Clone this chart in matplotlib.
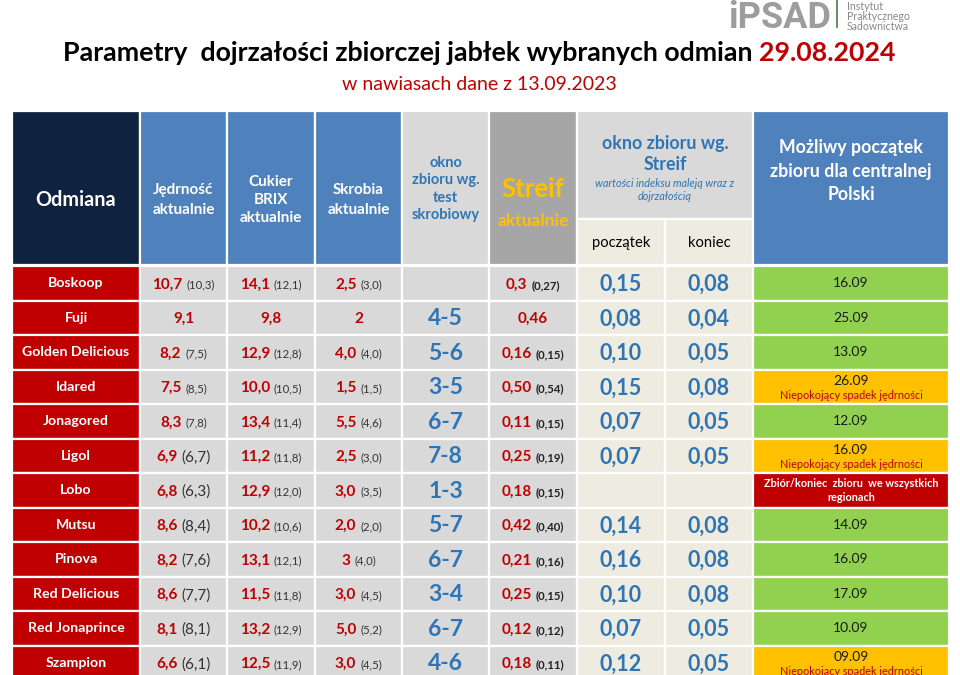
import matplotlib
matplotlib.use("Agg")
import matplotlib.pyplot as plt
from matplotlib.patches import Rectangle
from matplotlib import font_manager

plt.rcParams['font.family'] = ['Lato', 'DejaVu Sans']

# ---------------- data ----------------
varieties = ["Boskoop", "Fuji", "Golden Delicious", "Idared", "Jonagored", "Ligol",
             "Lobo", "Mutsu", "Pinova", "Red Delicious", "Red Jonaprince", "Szampion"]
firmness_now = ["10,7", "9,1", "8,2", "7,5", "8,3", "6,9", "6,8", "8,6", "8,2", "8,6", "8,1", "6,6"]
firmness_prev = ["10,3", "", "7,5", "8,5", "7,8", "6,7", "6,3", "8,4", "7,6", "7,7", "8,1", "6,1"]
sugar_now = ["14,1", "9,8", "12,9", "10,0", "13,4", "11,2", "12,9", "10,2", "13,1", "11,5", "13,2", "12,5"]
sugar_prev = ["12,1", "", "12,8", "10,5", "11,4", "11,8", "12,0", "10,6", "12,1", "11,8", "12,9", "11,9"]
starch_now = ["2,5", "2", "4,0", "1,5", "5,5", "2,5", "3,0", "2,0", "3", "3,0", "5,0", "3,0"]
starch_prev = ["3,0", "", "4,0", "1,5", "4,6", "3,0", "3,5", "2,0", "4,0", "4,5", "5,2", "4,5"]
starch_window = ["", "4-5", "5-6", "3-5", "6-7", "7-8", "1-3", "5-7", "6-7", "3-4", "6-7", "4-6"]
streif_now = ["0,3", "0,46", "0,16", "0,50", "0,11", "0,25", "0,18", "0,42", "0,21", "0,25", "0,12", "0,18"]
streif_prev = ["0,27", "", "0,15", "0,54", "0,15", "0,19", "0,15", "0,40", "0,16", "0,15", "0,12", "0,11"]
streif_start = ["0,15", "0,08", "0,10", "0,15", "0,07", "0,07", "", "0,14", "0,16", "0,10", "0,07", "0,12"]
streif_end = ["0,08", "0,04", "0,05", "0,08", "0,05", "0,05", "", "0,08", "0,08", "0,08", "0,05", "0,05"]
harvest_date = ["16.09", "25.09", "13.09", "26.09", "12.09", "16.09", "", "14.09", "16.09", "17.09", "10.09", "09.09"]
harvest_note = ["", "", "", "Niepokojący spadek jędrności", "", "Niepokojący spadek jędrności",
                "Zbiór/koniec  zbioru  we wszystkich\nregionach", "", "", "", "", "Niepokojący spadek jędrności"]
harvest_status = ["ok", "ok", "ok", "warn", "ok", "warn", "done", "ok", "ok", "ok", "ok", "warn"]

title_main = "Parametry  dojrzałości zbiorczej jabłek wybranych odmian "
title_date = "29.08.2024"
subtitle = "w nawiasach dane z 13.09.2023"
logo_name = "iPSAD"
logo_lines = ["Instytut", "Praktycznego", "Sadownictwa"]

# ---------------- style ----------------
RED = "#c00000"
BLUE_HDR = "#4f81bd"
NAVY = "#0f2341"
GREY = "#d9d9d9"
GREY_DARK = "#a6a6a6"
BEIGE = "#eeece1"
BLUE_TXT = "#2e75b6"
ORANGE = "#ffc000"
GREEN = "#92d050"
status_colors = {"ok": GREEN, "warn": ORANGE, "done": RED}
large_prev_rows = {5, 6, 7, 8, 9, 10, 11}

installed = {f.name for f in font_manager.fontManager.ttflist}
NARROW = 'Liberation Sans Narrow' if 'Liberation Sans Narrow' in installed else 'Roboto'

fig = plt.figure(figsize=(9.6, 6.75), dpi=100)
ax = fig.add_axes([0, 0, 1, 1])
ax.set_xlim(0, 960)
ax.set_ylim(675, 0)
ax.axis('off')
renderer = fig.canvas.get_renderer()

PT = 100 / 72.0


def runs(x, y, parts, gap=0.0):
    """draw text runs sharing a baseline, centered on x"""
    texts, widths = [], []
    for s, kw in parts:
        t = ax.text(0, y, s, va='baseline', ha='left', **kw)
        w = t.get_window_extent(renderer).width
        texts.append(t)
        widths.append(w)
    total = sum(widths) + gap * (len(parts) - 1)
    start = x - total / 2
    for t, w in zip(texts, widths):
        t.set_x(start)
        start += w + gap


def cell(x0, x1, y0, y1, color):
    ax.add_patch(Rectangle((x0, y0), x1 - x0, y1 - y0, facecolor=color,
                           edgecolor='white', linewidth=1.6))


# ---------------- title ----------------
runs(479, 61, [(title_main, dict(fontsize=19.3, fontweight='bold', color='black')),
               (title_date, dict(fontsize=19.3, fontweight='bold', color=RED))])
ax.text(479, 84, subtitle, ha='center', va='center', fontsize=14, color=RED)

# logo
ax.text(780, 27.5, logo_name, ha='center', va='baseline', fontsize=26, fontweight='bold',
        color="#9d9d9d", family=[NARROW, 'DejaVu Sans'])
ax.plot([837, 837], [0, 27], color="#4a7a4a", lw=1.2)
ax.text(847, 1.0, "\n".join(logo_lines), ha='left', va='top', fontsize=7.6,
        color="#888888", linespacing=0.88)

# ---------------- header ----------------
cols = [12, 140, 227, 315, 402, 489, 577, 665, 753, 949]
HT, HB, HS = 111, 265, 219

cell(cols[0], cols[1], HT, HB, NAVY)
ax.text((cols[0] + cols[1]) / 2, 200, "Odmiana", ha='center', va='center', fontsize=14.3,
        fontweight='bold', color='white')
hdr_blue = ["Jędrność\naktualnie", "Cukier\nBRIX\naktualnie", "Skrobia\naktualnie"]
hdr_ls = [1.55, 1.35, 1.55]
for i, txt in enumerate(hdr_blue):
    cell(cols[i + 1], cols[i + 2], HT, HB, BLUE_HDR)
    ax.text((cols[i + 1] + cols[i + 2]) / 2, 200, txt, ha='center', va='center', fontsize=11,
            fontweight='bold', color='white', linespacing=hdr_ls[i])
cell(cols[4], cols[5], HT, HB, GREY)
ax.text((cols[4] + cols[5]) / 2, 189, "okno\nzbioru wg.\ntest\nskrobiowy", ha='center', va='center',
        fontsize=10.5, fontweight='bold', color=BLUE_TXT, linespacing=1.3)
cell(cols[5], cols[6], HT, HB, GREY_DARK)
ax.text((cols[5] + cols[6]) / 2, 189, "Streif", ha='center', va='center', fontsize=18.5,
        fontweight='bold', color=ORANGE)
ax.text((cols[5] + cols[6]) / 2, 221, "aktualnie", ha='center', va='center', fontsize=12.5,
        fontweight='bold', color=ORANGE)
cell(cols[6], cols[8], HT, HS, GREY)
ax.text((cols[6] + cols[8]) / 2, 154, "okno zbioru wg.\nStreif", ha='center', va='center',
        fontsize=12.8, fontweight='bold', color=BLUE_TXT, linespacing=1.35)
ax.text((cols[6] + cols[8]) / 2, 190, "wartości indeksu maleją wraz z\ndojrzałością", ha='center',
        va='center', fontsize=7.8, style='italic', color=BLUE_TXT, linespacing=1.3)
cell(cols[6], cols[7], HS, HB, BEIGE)
cell(cols[7], cols[8], HS, HB, BEIGE)
ax.text((cols[6] + cols[7]) / 2, 243, "początek", ha='center', va='center', fontsize=10.6, color='black')
ax.text((cols[7] + cols[8]) / 2, 243, "koniec", ha='center', va='center', fontsize=10.6, color='black')
cell(cols[8], cols[9], HT, HB, BLUE_HDR)
ax.text((cols[8] + cols[9]) / 2, 171, "Możliwy początek\nzbioru dla centralnej\nPolski", ha='center',
        va='center', fontsize=12.8, fontweight='bold', color='white', linespacing=1.45)

# ---------------- rows ----------------
RT, RH = 266, 34.5
MAIN = 11
for r, name in enumerate(varieties):
    y0 = RT + r * RH
    y1 = y0 + RH
    yc = (y0 + y1) / 2
    cell(cols[0], cols[1], y0, y1, RED)
    ax.text((cols[0] + cols[1]) / 2, yc, name, ha='center', va='center', fontsize=10.2,
            fontweight='bold', color='white')
    for c in range(1, 6):
        cell(cols[c], cols[c + 1], y0, y1, GREY)
    cell(cols[6], cols[7], y0, y1, BEIGE)
    cell(cols[7], cols[8], y0, y1, BEIGE)
    cell(cols[8], cols[9], y0, y1, status_colors[harvest_status[r]])

    base = yc + 0.36 * MAIN * PT
    pairs = [(firmness_now, firmness_prev), (sugar_now, sugar_prev), (starch_now, starch_prev)]
    for k, (now, prev) in enumerate(pairs):
        xc = (cols[k + 1] + cols[k + 2]) / 2
        parts = [(now[r], dict(fontsize=MAIN, fontweight='bold', color=RED))]
        if prev[r]:
            big = (k == 0 and r in large_prev_rows)
            parts.append((f"({prev[r]})", dict(fontsize=MAIN if big else 8.2, color='#333333')))
        runs(xc, base, parts, gap=4)
    # streif actual
    xc = (cols[5] + cols[6]) / 2
    parts = [(streif_now[r], dict(fontsize=MAIN, fontweight='bold', color=RED))]
    if streif_prev[r]:
        parts.append((f"({streif_prev[r]})", dict(fontsize=8.2, fontweight='bold', color='#222222')))
    runs(xc, base, parts, gap=4)
    # starch window
    if starch_window[r]:
        ax.text((cols[4] + cols[5]) / 2, yc + 1, starch_window[r], ha='center', va='center',
                fontsize=16.5, fontweight='bold', color=BLUE_TXT)
    if streif_start[r]:
        ax.text((cols[6] + cols[7]) / 2, yc + 1, streif_start[r], ha='center', va='center',
                fontsize=15.5, fontweight='bold', color=BLUE_TXT)
    if streif_end[r]:
        ax.text((cols[7] + cols[8]) / 2, yc + 1, streif_end[r], ha='center', va='center',
                fontsize=15.5, fontweight='bold', color=BLUE_TXT)
    xd = (cols[8] + cols[9]) / 2
    if harvest_status[r] == "done":
        ax.text(xd, yc, harvest_note[r], ha='center', va='center', fontsize=7.8,
                fontweight='bold', color='white', linespacing=1.35)
    elif harvest_note[r]:
        ax.text(xd, yc - 6, harvest_date[r], ha='center', va='center', fontsize=10, color='#1a1a1a')
        ax.text(xd, yc + 8.5, harvest_note[r], ha='center', va='center', fontsize=7.8, color=RED)
    else:
        ax.text(xd, yc, harvest_date[r], ha='center', va='center', fontsize=10, color='#1a1a1a')

fig.savefig("out.png", dpi=100)
